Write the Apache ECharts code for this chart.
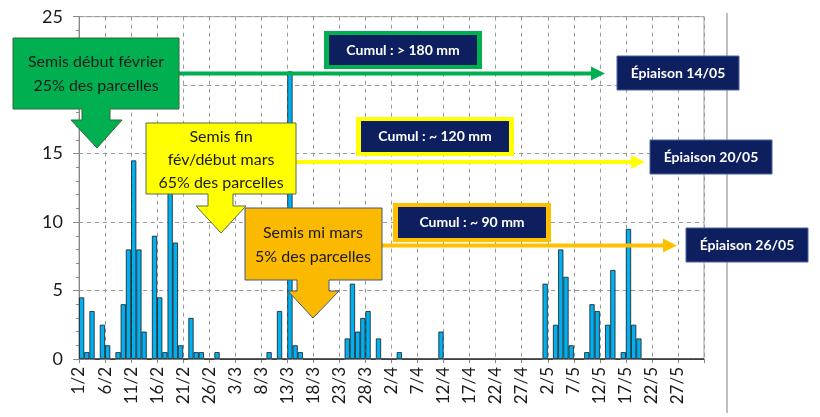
<!DOCTYPE html>
<html lang="fr">
<head>
    <meta charset="UTF-8">
    <script src="https://cdn.jsdelivr.net/npm/echarts@6/dist/echarts.min.js"></script>
    <title>Pluviométrie et semis</title>
    <style>
        html, body { margin: 0; padding: 0; background: #ffffff; }
        #chart { width: 820px; height: 417px; }
    </style>
</head>
<body>
    <div id="chart"></div>
    <script>
        // pluie journalière (mm), du 1/2 au 31/5
        var rain = [
            4.5, 0.5, 3.5, 0, 2.5, 1, 0, 0.5, 4, 8,
            14.5, 8, 2, 0, 9, 4.5, 0.5, 13, 8.5, 1,
            0, 3, 0.5, 0.5, 0, 0, 0.5, 0, 0, 0,
            0, 0, 0, 0, 0, 0, 0.5, 0, 3.5, 0,
            21, 1, 0.5, 0, 0, 0, 0, 0, 0, 0,
            0, 1.5, 5.5, 2, 3, 3.5, 0, 1.5, 0, 0,
            0, 0.5, 0, 0, 0, 0, 0, 0, 0, 2,
            0, 0, 0, 0, 0, 0, 0, 0, 0, 0,
            0, 0, 0, 0, 0, 0, 0, 0, 0, 5.5,
            0, 2.5, 8, 6, 1, 0, 0, 0.5, 4, 3.5,
            0, 2.5, 6.5, 0, 0.5, 9.5, 2.5, 1.5, 0, 0,
            0, 0, 0, 0, 0, 0, 0, 0, 0, 0
        ];

        var months = [2, 3, 4, 5];
        var monthDays = [28, 31, 30, 31];

        var tickLabels = ['1/2', '6/2', '11/2', '16/2', '21/2', '26/2', '3/3', '8/3',
            '13/3', '18/3', '23/3', '28/3', '2/4', '7/4', '12/4', '17/4', '22/4',
            '27/4', '2/5', '7/5', '12/5', '17/5', '22/5', '27/5'];

        var days = [];
        for (var m = 0; m < months.length; m++) {
            for (var d = 1; d <= monthDays[m]; d++) days.push(d + '/' + months[m]);
        }

        var font = 'Lato, "Noto Sans", sans-serif';
        var navy = '#0d1f5e';

        // callout en forme de flèche vers le bas
        function callout(pts, fill, stroke) {
            return { type: 'polygon', z: 100, shape: { points: pts },
                style: { fill: fill, stroke: stroke, lineWidth: 1 } };
        }
        function txt(x, y, s, size, color, weight) {
            return { type: 'text', z: 101, x: x, y: y,
                style: { text: s, fill: color, font: (weight || 'normal') + ' ' + size + 'px ' + font,
                    align: 'center', verticalAlign: 'middle' } };
        }
        function arrow(x1, x2, y, color) {
            return [
                { type: 'line', z: 100, shape: { x1: x1, y1: y, x2: x2 - 12, y2: y },
                    style: { stroke: color, lineWidth: 4 } },
                { type: 'polygon', z: 100, shape: { points: [[x2 - 14, y - 7], [x2, y], [x2 - 14, y + 7]] },
                    style: { fill: color } }
            ];
        }
        function cumul(x, y, w, h, border, s) {
            return [
                { type: 'rect', z: 100, shape: { x: x, y: y, width: w, height: h }, style: { fill: border } },
                { type: 'rect', z: 101, shape: { x: x + 5, y: y + 4, width: w - 10, height: h - 8 }, style: { fill: navy } },
                txt(x + w / 2, y + h / 2, s, 14, '#ffffff', 'bold')
            ];
        }
        function epiaison(x, y, s) {
            return [
                { type: 'rect', z: 100, shape: { x: x, y: y, width: 122, height: 34 },
                    style: { fill: navy, stroke: '#4a62a0', lineWidth: 1 } },
                txt(x + 61, y + 17, s, 14, '#ffffff', 'bold')
            ];
        }

        var green = '#00b050', yellow = '#ffff00', orange = '#ffc000';

        var graphics = [
            { type: 'line', z: 90, shape: { x1: 727, y1: 13, x2: 727, y2: 413 },
                style: { stroke: '#aaaaaa', lineWidth: 1.5 } }
        ];
        graphics = graphics.concat(arrow(179, 605, 73.5, green), arrow(296, 645, 162, yellow),
            arrow(382, 677, 245.5, orange));
        graphics.push(
            callout([[13, 38], [179, 38], [179, 109], [110, 109], [110, 120], [122, 120], [97, 148],
                [71, 120], [82, 120], [82, 109], [13, 109]], '#00b050', '#2f6a3a'),
            txt(96, 62, 'Semis début février', 16, '#1a1a1a'),
            txt(96, 86, '25% des parcelles', 16, '#1a1a1a'),
            callout([[146, 123], [296, 123], [296, 194], [233, 194], [233, 206], [246, 206], [221, 233],
                [196, 206], [208, 206], [208, 194], [146, 194]], yellow, '#5a6a50'),
            txt(221, 137, 'Semis fin', 16, '#1a1a1a'),
            txt(221, 160, 'fév/début mars', 16, '#1a1a1a'),
            txt(221, 183, '65% des parcelles', 16, '#1a1a1a'),
            callout([[245, 208], [382, 208], [382, 280], [329, 280], [329, 291], [339, 291], [313, 318],
                [288, 291], [297, 291], [297, 280], [245, 280]], '#fbb900', '#41597a'),
            txt(313, 233, 'Semis mi mars', 16, '#1a1a1a'),
            txt(313, 257, '5% des parcelles', 16, '#1a1a1a')
        );
        graphics = graphics.concat(
            cumul(324, 31, 158, 38, green, 'Cumul : > 180 mm'),
            cumul(356, 117, 158, 39, yellow, 'Cumul : ~ 120 mm'),
            cumul(393, 203, 158, 39, orange, 'Cumul : ~ 90 mm'),
            epiaison(617, 56, 'Épiaison 14/05'),
            epiaison(650, 140, 'Épiaison 20/05'),
            epiaison(686, 228, 'Épiaison 26/05')
        );

        var chart = echarts.init(document.getElementById('chart'));
        chart.setOption({
            backgroundColor: '#ffffff',
            animation: false,
            grid: { left: 79, right: 116, top: 16.7, bottom: 58, show: true,
                borderColor: '#a0a0a0', borderWidth: 1 },
            xAxis: [{
                type: 'value', min: 0, max: 120, interval: 5,
                axisLine: { lineStyle: { color: '#888888' } },
                axisTick: { show: true, length: 4, lineStyle: { color: '#888888' } },
                axisLabel: { rotate: 90, margin: 8, color: '#1a1a1a', fontSize: 17, fontFamily: font,
                    formatter: function (v) { return tickLabels[v / 5] || ''; } },
                splitLine: { show: true, lineStyle: { color: '#999999', type: [4, 4] } }
            }, {
                type: 'category', data: days, show: false, boundaryGap: true
            }],
            yAxis: {
                type: 'value', min: 0, max: 25, interval: 5,
                axisLine: { show: true, lineStyle: { color: '#888888' } },
                axisTick: { show: true, length: 6, lineStyle: { color: '#888888' } },
                minorTick: { show: true, splitNumber: 5, length: 3, lineStyle: { color: '#888888' } },
                axisLabel: { margin: 16, color: '#1a1a1a', fontSize: 18, fontFamily: font },
                splitLine: { show: true, lineStyle: { color: '#999999', type: [4, 4] } }
            },
            series: [{
                type: 'bar', xAxisIndex: 1, data: rain, barCategoryGap: '0%',
                itemStyle: { color: '#00b0f0', borderColor: '#1a1a1a', borderWidth: 0.8 }
            }],
            graphic: graphics
        });
    </script>
</body>
</html>
